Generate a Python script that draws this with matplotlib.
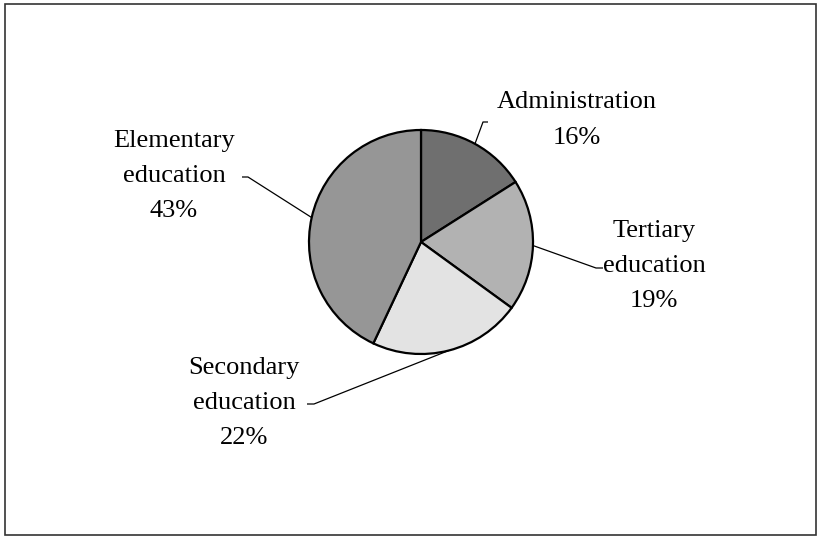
import numpy as np
import matplotlib
matplotlib.use("Agg")
import matplotlib.pyplot as plt
from matplotlib.patches import Rectangle

# Budget shares by sector
sectors = ["Administration", "Tertiary\neducation", "Secondary\neducation", "Elementary\neducation"]
shares = [16, 19, 22, 43]
fills = ["#6f6f6f", "#b2b2b2", "#e3e3e3", "#969696"]

plt.rcParams["font.family"] = ["Liberation Serif", "DejaVu Serif"]

W, H = 817, 536
fig = plt.figure(figsize=(W / 100, H / 100), dpi=100)

# overlay in pixel units for the frame, labels and leader lines
over = fig.add_axes([0, 0, 1, 1])
over.set_xlim(0, W)
over.set_ylim(H, 0)
over.axis("off")
over.add_patch(Rectangle((5, 4), 811, 531, fill=False, edgecolor="#333333", linewidth=1.2))

# pie: center and radius in pixels
cx, cy, r = 421, 242, 112
ax = fig.add_axes([(cx - r) / W, (H - cy - r) / H, 2 * r / W, 2 * r / H])
ax.pie(shares, colors=fills, startangle=90, counterclock=False,
       wedgeprops=dict(edgecolor="black", linewidth=1.6))
ax.set_xlim(-1, 1)
ax.set_ylim(-1, 1)
ax.set_aspect("auto")

# label block centers and elbow points of the leader lines
label_xy = [(577, 120), (654, 266), (244, 403), (174, 176)]
elbows = [[(483, 122), (488, 122)],
          [(596, 268), (603, 268)],
          [(314, 404), (307, 404)],
          [(248, 177), (242, 177)]]

cum = np.cumsum([0] + shares[:-1])
for name, val, c0, (tx, ty), elb in zip(sectors, shares, cum, label_xy, elbows):
    ang = np.deg2rad(90 - 360 * (c0 + val / 2) / 100)
    ex, ey = cx + r * np.cos(ang), cy - r * np.sin(ang)
    xs = [ex] + [p[0] for p in elb]
    ys = [ey] + [p[1] for p in elb]
    over.plot(xs, ys, color="black", linewidth=0.9, solid_capstyle="butt")
    over.text(tx, ty, f"{name}\n{val}%", ha="center", va="center",
              fontsize=19, linespacing=1.78, multialignment="center")

fig.savefig("out.png", dpi=100)
